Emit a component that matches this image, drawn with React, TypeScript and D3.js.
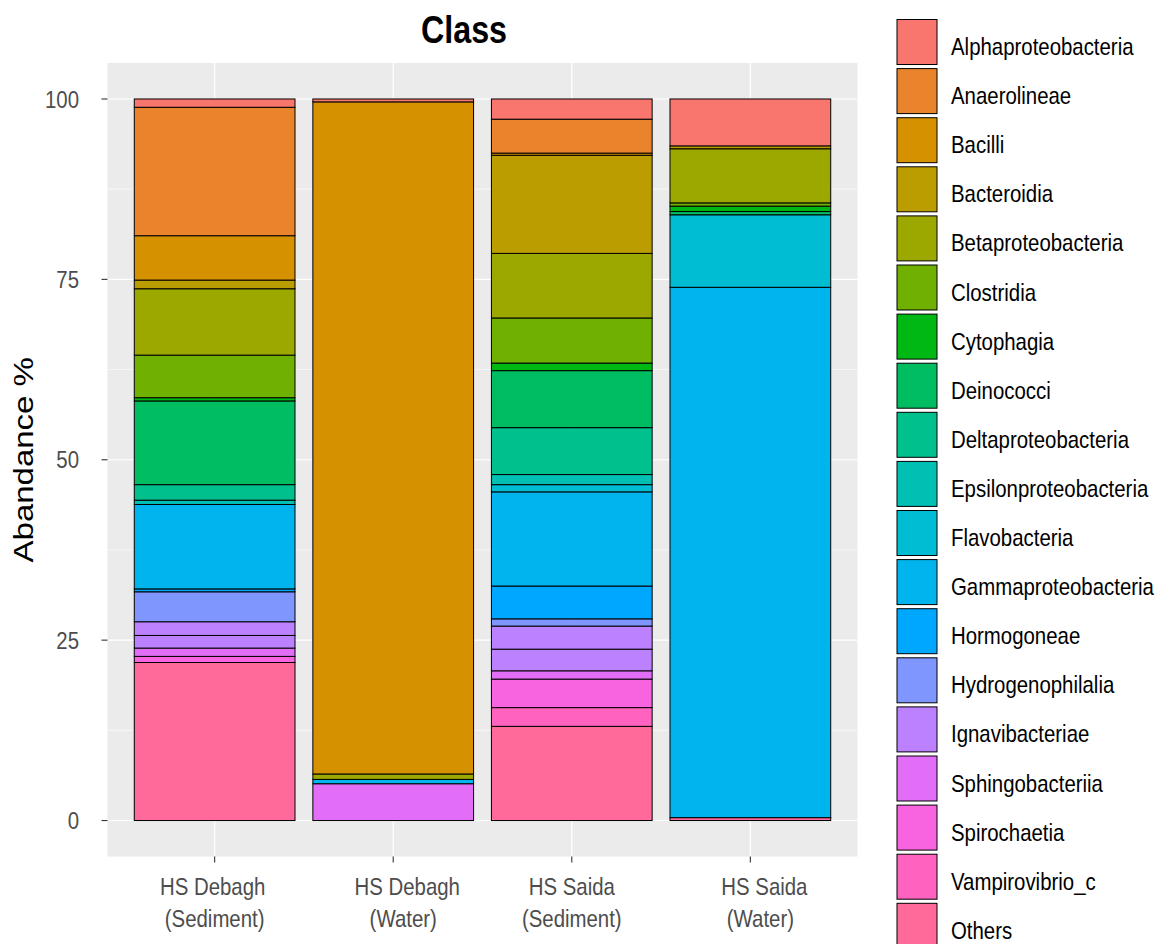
import React from "react";
import * as d3 from "d3";

// ---------- DATA ----------
const samples = ["HS Debagh|(Sediment)", "HS Debagh|(Water)", "HS Saida|(Sediment)", "HS Saida|(Water)"];

const classes = [
  "Alphaproteobacteria", "Anaerolineae", "Bacilli", "Bacteroidia", "Betaproteobacteria",
  "Clostridia", "Cytophagia", "Deinococci", "Deltaproteobacteria", "Epsilonproteobacteria",
  "Flavobacteria", "Gammaproteobacteria", "Hormogoneae", "Hydrogenophilalia", "Ignavibacteriae",
  "Sphingobacteriia", "Spirochaetia", "Vampirovibrio_c", "Others",
];

// segments listed top -> bottom (ggplot stacking order)
const debaghSediment: [string, number][] = [
  ["Alphaproteobacteria", 1.15], ["Anaerolineae", 17.8], ["Bacilli", 6.15], ["Bacteroidia", 1.2],
  ["Betaproteobacteria", 9.2], ["Clostridia", 5.9], ["Cytophagia", 0.45], ["Deinococci", 11.6],
  ["Deltaproteobacteria", 2.15], ["Epsilonproteobacteria", 0.6], ["Gammaproteobacteria", 11.7],
  ["Hormogoneae", 0.4], ["Hydrogenophilalia", 4.15], ["Ignavibacteriae", 1.9], ["Ignavibacteriae", 1.75],
  ["Sphingobacteriia", 1.15], ["Spirochaetia", 0.85], ["Others", 21.9],
];
const debaghWater: [string, number][] = [
  ["Alphaproteobacteria", 0.4], ["Bacilli", 93.15], ["Betaproteobacteria", 0.75],
  ["Gammaproteobacteria", 0.6], ["Sphingobacteriia", 5.1],
];
const saidaSediment: [string, number][] = [
  ["Alphaproteobacteria", 2.8], ["Anaerolineae", 4.7], ["Bacilli", 0.3], ["Bacteroidia", 13.6],
  ["Betaproteobacteria", 8.95], ["Clostridia", 6.25], ["Cytophagia", 1.05], ["Deinococci", 7.9],
  ["Deltaproteobacteria", 6.5], ["Epsilonproteobacteria", 1.4], ["Flavobacteria", 1.0],
  ["Gammaproteobacteria", 13.05], ["Hormogoneae", 4.55], ["Hydrogenophilalia", 1.0],
  ["Ignavibacteriae", 3.2], ["Ignavibacteriae", 3.0], ["Sphingobacteriia", 1.15],
  ["Spirochaetia", 3.95], ["Vampirovibrio_c", 2.6], ["Others", 13.05],
];
const saidaWater: [string, number][] = [
  ["Alphaproteobacteria", 6.5], ["Bacteroidia", 0.4], ["Betaproteobacteria", 7.5], ["Clostridia", 0.45],
  ["Cytophagia", 0.75], ["Deinococci", 0.45], ["Flavobacteria", 10.05], ["Gammaproteobacteria", 73.5],
  ["Others", 0.4],
];
const sampleData = [debaghSediment, debaghWater, saidaSediment, saidaWater];

const yTicks = [0, 25, 50, 75, 100];
const yMinor = [12.5, 37.5, 62.5, 87.5];

// ---------- STYLE HELPERS ----------
function hclLuv(h: number, c: number, l: number): string {
  const hr = (h * Math.PI) / 180;
  const U = c * Math.cos(hr), V = c * Math.sin(hr);
  const Xn = 95.047, Yn = 100, Zn = 108.883;
  const den = Xn + 15 * Yn + 3 * Zn;
  const un = (4 * Xn) / den, vn = (9 * Yn) / den;
  const Y = l > 8 ? Yn * Math.pow((l + 16) / 116, 3) : (Yn * l) / 903.3;
  const u = U / (13 * l) + un, v = V / (13 * l) + vn;
  const X = (9 * Y * u) / (4 * v);
  const Z = ((9 * Y) / v - X - 15 * Y) / 3;
  const x = X / 100, y = Y / 100, z = Z / 100;
  const lin = [
    3.240479 * x - 1.53715 * y - 0.498535 * z,
    -0.969256 * x + 1.875992 * y + 0.041556 * z,
    0.055648 * x - 0.204043 * y + 1.057311 * z,
  ];
  const g = lin.map((t) => {
    const s = t <= 0.0031308 ? 12.92 * t : 1.055 * Math.pow(t, 1 / 2.4) - 0.055;
    return Math.round(Math.max(0, Math.min(1, s)) * 255);
  });
  return d3.rgb(g[0], g[1], g[2]).formatHex();
}

const n = classes.length;
const colors = classes.map((_, i) => hclLuv(15 + (360 / n) * i, 100, 65));
const color = d3.scaleOrdinal<string, string>().domain(classes).range(colors);

const FONT = "'Liberation Sans', Arial, Helvetica, sans-serif";
const SX = 0.85;

const panel = { left: 107.5, right: 857.5, top: 62.9, bottom: 856.6 };
// label line offsets (the original labels carry padding spaces)
const labelShift = [[-2, 0], [14, 10], [0, 0], [14, 10]];

export default function App() {
  // ggplot discrete: bar width 0.9 of unit, expansion 0.6 units each side
  const unit = (panel.right - panel.left) / (samples.length + 0.2);
  const center = (i: number) => panel.left + (0.6 + i) * unit;
  const barW = 0.9 * unit;
  const y = d3.scaleLinear().domain([-5, 105]).range([panel.bottom, panel.top]);

  const bars: JSX.Element[] = [];
  sampleData.forEach((segs, i) => {
    let cum = 0;
    const rev = [...segs].reverse();
    rev.forEach(([cls, v], j) => {
      const y0 = cum, y1 = cum + v;
      cum = y1;
      bars.push(
        <rect key={`b${i}-${j}`} x={center(i) - barW / 2} width={barW} y={y(y1)} height={y(y0) - y(y1)}
          fill={color(cls)} stroke="#000" strokeWidth={1} />
      );
    });
  });

  const keyPitch = 49.1;
  const keyTop = 19.5;

  return (
    <svg width={1160} height={944} style={{ position: "absolute", left: 0, top: 0, background: "#fff" }} fontFamily={FONT}>
      {/* panel */}
      <rect x={panel.left} y={panel.top} width={panel.right - panel.left} height={panel.bottom - panel.top} fill="#EBEBEB" />
      {yMinor.map((t) => (
        <line key={`mn${t}`} x1={panel.left} x2={panel.right} y1={y(t)} y2={y(t)} stroke="#fff" strokeWidth={0.6} />
      ))}
      {yTicks.map((t) => (
        <line key={`mj${t}`} x1={panel.left} x2={panel.right} y1={y(t)} y2={y(t)} stroke="#fff" strokeWidth={1.2} />
      ))}
      {samples.map((s, i) => (
        <line key={`vx${i}`} x1={center(i)} x2={center(i)} y1={panel.top} y2={panel.bottom} stroke="#fff" strokeWidth={1.2} />
      ))}
      {bars}

      {/* y axis */}
      {yTicks.map((t) => (
        <g key={`yt${t}`}>
          <line x1={panel.left - 6} x2={panel.left} y1={y(t)} y2={y(t)} stroke="#333" strokeWidth={1.1} />
          <text transform={`translate(79,${y(t) + 8.6}) scale(${SX},1)`} textAnchor="end" fontSize={24} fill="#4D4D4D">{t}</text>
        </g>
      ))}
      {/* x axis */}
      {samples.map((s, i) => {
        const [l1, l2] = s.split("|");
        return (
          <g key={`xt${i}`}>
            <line x1={center(i)} x2={center(i)} y1={panel.bottom} y2={panel.bottom + 6} stroke="#333" strokeWidth={1.1} />
            <text transform={`translate(${center(i) + labelShift[i][0]},895) scale(${SX},1)`} textAnchor="middle" fontSize={24} fill="#4D4D4D">{l1}</text>
            <text transform={`translate(${center(i) + labelShift[i][1]},927) scale(${SX},1)`} textAnchor="middle" fontSize={24} fill="#4D4D4D">{l2}</text>
          </g>
        );
      })}
      {/* axis title */}
      <text transform={`translate(33,${(panel.top + panel.bottom) / 2}) rotate(-90) scale(1,${SX})`} textAnchor="middle" fontSize={33} fill="#000">Abandance %</text>
      {/* title */}
      <text transform={`translate(464,43) scale(${SX},1)`} textAnchor="middle" fontSize={38} fontWeight="bold" fill="#000">Class</text>

      {/* legend */}
      {classes.map((c, i) => {
        const top = keyTop + i * keyPitch;
        return (
          <g key={`lg${c}`}>
            <rect x={897} y={top} width={40} height={45} fill={color(c)} stroke="#000" strokeWidth={1} />
            <text transform={`translate(951,${top + 22.5 + 13}) scale(${SX},1)`} fontSize={24} fill="#000">{c}</text>
          </g>
        );
      })}
    </svg>
  );
}
